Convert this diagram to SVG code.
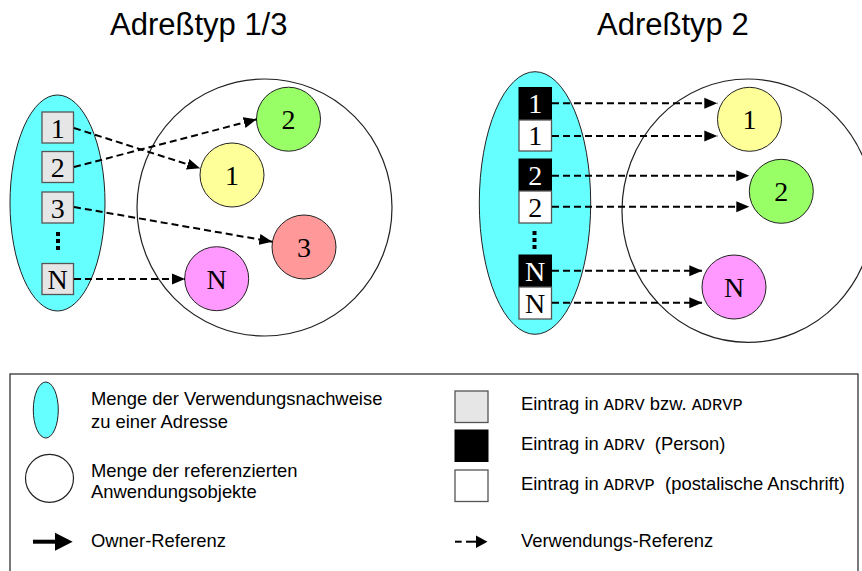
<svg xmlns="http://www.w3.org/2000/svg" width="862" height="571" viewBox="0 0 862 571">
<defs>
<marker id="ah" markerUnits="userSpaceOnUse" markerWidth="14" markerHeight="12" refX="13" refY="6" orient="auto">
<path d="M0,0.5 L13,6 L0,11.5 Z" fill="#000"/>
</marker>
<style>
.title{font-family:"Liberation Sans",Arial,sans-serif;font-size:31px;fill:#000}
.lbl{font-family:"Liberation Serif","Times New Roman",serif;font-size:28px;text-anchor:middle;fill:#000}
.lblw{font-family:"Liberation Serif","Times New Roman",serif;font-size:28px;text-anchor:middle;fill:#fff}
.leg{font-family:"Liberation Sans",Arial,sans-serif;font-size:18.4px;fill:#000}
tspan.mono{font-family:"Liberation Mono","Courier New",monospace;font-size:17px}
.set{fill:#66FFFF;stroke:#222;stroke-width:1}
.big{fill:#fff;stroke:#222;stroke-width:1.2}
.obj{stroke:#222;stroke-width:1}
.gbox{fill:#E6E6E6;stroke:#555;stroke-width:1.3}
.bbox{fill:#000;stroke:#000;stroke-width:1}
.wbox{fill:#fff;stroke:#555;stroke-width:1.3}
.ref{stroke:#000;stroke-width:2;stroke-dasharray:7 4;fill:none;marker-end:url(#ah)}
.dots{stroke:#000;stroke-width:4;stroke-dasharray:4 3}
</style>
</defs>
<rect width="862" height="571" fill="#fff"/>

<text class="title" x="110" y="35">Adreßtyp 1/3</text>
<text class="title" x="597" y="35">Adreßtyp 2</text>

<!-- Left diagram -->
<g id="left-set"><ellipse class="set" cx="57.5" cy="203" rx="47.5" ry="108"/></g>
<g id="left-objects"><ellipse class="big" cx="264.5" cy="207.5" rx="127.5" ry="128.5"/></g>
<g id="l-box1"><rect class="gbox" x="42" y="112" width="31.5" height="31"/><text class="lbl" x="57.7" y="137.5">1</text></g>
<g id="l-box2"><rect class="gbox" x="42" y="151.5" width="31.5" height="31"/><text class="lbl" x="57.7" y="177">2</text></g>
<g id="l-box3"><rect class="gbox" x="42" y="192" width="31.5" height="31"/><text class="lbl" x="57.7" y="217.5">3</text></g>
<g id="l-dots"><line class="dots" x1="58" y1="232" x2="58" y2="251"/></g>
<g id="l-boxN"><rect class="gbox" x="42" y="263.5" width="31.5" height="31"/><text class="lbl" x="57.7" y="289">N</text></g>
<g id="l-obj2"><circle class="obj" cx="288.5" cy="119.2" r="32" fill="#99FF66"/><text class="lbl" x="288.5" y="129">2</text></g>
<g id="l-obj1"><circle class="obj" cx="232" cy="175" r="32" fill="#FFFF99"/><text class="lbl" x="232" y="185">1</text></g>
<g id="l-obj3"><circle class="obj" cx="304" cy="247" r="32" fill="#FF9999"/><text class="lbl" x="304" y="257">3</text></g>
<g id="l-objN"><circle class="obj" cx="216.7" cy="278.7" r="32" fill="#FF99FF"/><text class="lbl" x="216.7" y="288.5">N</text></g>

<!-- Right diagram -->
<g id="right-set"><ellipse class="set" cx="535" cy="203" rx="55.7" ry="131.3"/></g>
<g id="right-objects"><ellipse class="big" cx="748" cy="210.7" rx="126" ry="131.7"/></g>
<g id="r-box1p"><rect class="bbox" x="519" y="87.5" width="32.5" height="32.5"/><text class="lblw" x="535.2" y="113">1</text></g>
<g id="r-box1a"><rect class="wbox" x="519" y="120" width="32.5" height="31"/><text class="lbl" x="535.2" y="145">1</text></g>
<g id="r-box2p"><rect class="bbox" x="519" y="159" width="32.5" height="32"/><text class="lblw" x="535.2" y="184.5">2</text></g>
<g id="r-box2a"><rect class="wbox" x="519" y="191" width="32.5" height="32"/><text class="lbl" x="535.2" y="216.5">2</text></g>
<g id="r-dots"><line class="dots" x1="534.5" y1="231" x2="534.5" y2="251"/></g>
<g id="r-boxNp"><rect class="bbox" x="519" y="255" width="32.5" height="32"/><text class="lblw" x="535.2" y="281">N</text></g>
<g id="r-boxNa"><rect class="wbox" x="519" y="287" width="32.5" height="32"/><text class="lbl" x="535.2" y="313">N</text></g>
<g id="r-obj1"><circle class="obj" cx="749.5" cy="119.3" r="32" fill="#FFFF99"/><text class="lbl" x="749.5" y="129">1</text></g>
<g id="r-obj2"><circle class="obj" cx="781.3" cy="191.3" r="32" fill="#99FF66"/><text class="lbl" x="781.3" y="201">2</text></g>
<g id="r-objN"><circle class="obj" cx="734" cy="287" r="32" fill="#FF99FF"/><text class="lbl" x="734" y="297">N</text></g>

<!-- Connectors -->
<g id="connectors">
<line class="ref" x1="74" y1="128" x2="200" y2="168.3"/>
<line class="ref" x1="74" y1="167" x2="256.7" y2="119.3"/>
<line class="ref" x1="74" y1="207" x2="272.3" y2="241.7"/>
<line class="ref" x1="74" y1="279" x2="185" y2="279"/>
<line class="ref" x1="552" y1="103.3" x2="717.3" y2="103.3"/>
<line class="ref" x1="552" y1="136" x2="717.3" y2="136"/>
<line class="ref" x1="552" y1="175.7" x2="749.3" y2="175.7"/>
<line class="ref" x1="552" y1="206.7" x2="749.3" y2="206.7"/>
<line class="ref" x1="552" y1="270.7" x2="702.3" y2="270.7"/>
<line class="ref" x1="552" y1="302.7" x2="702.3" y2="302.7"/>
</g>

<!-- Legend -->
<g id="legend">
<rect x="10" y="374" width="848" height="210" fill="none" stroke="#222" stroke-width="1.2"/>
<ellipse class="set" cx="45.8" cy="410" rx="12.5" ry="28"/>
<text class="leg" x="91" y="405">Menge der Verwendungsnachweise</text>
<text class="leg" x="91" y="428">zu einer Adresse</text>
<circle class="big" cx="49.5" cy="478.3" r="24"/>
<text class="leg" x="91" y="477">Menge der referenzierten</text>
<text class="leg" x="91" y="498">Anwendungsobjekte</text>
<line x1="33" y1="541.7" x2="57" y2="541.7" stroke="#000" stroke-width="4"/>
<path d="M55,532.7 L72.7,541.7 L55,550.7 Z" fill="#000"/>
<text class="leg" x="91" y="547.3">Owner-Referenz</text>

<rect class="gbox" x="455" y="391" width="33" height="31.5"/>
<rect class="bbox" x="455" y="430" width="33" height="31.5"/>
<rect class="wbox" x="455" y="470" width="33" height="31.5"/>
<text class="leg" x="521" y="410" xml:space="preserve">Eintrag in <tspan class="mono" font-family="Liberation Mono, monospace" style="font-family:'Liberation Mono',monospace">ADRV</tspan> bzw. <tspan class="mono" font-family="Liberation Mono, monospace" style="font-family:'Liberation Mono',monospace">ADRVP</tspan></text>
<text class="leg" x="521" y="450" xml:space="preserve">Eintrag in <tspan class="mono" font-family="Liberation Mono, monospace" style="font-family:'Liberation Mono',monospace">ADRV</tspan>  (Person)</text>
<text class="leg" x="521" y="489.5" xml:space="preserve">Eintrag in <tspan class="mono" font-family="Liberation Mono, monospace" style="font-family:'Liberation Mono',monospace">ADRVP</tspan>  (postalische Anschrift)</text>
<line x1="455" y1="541.7" x2="461.7" y2="541.7" stroke="#000" stroke-width="2"/>
<line x1="466" y1="541.7" x2="478" y2="541.7" stroke="#000" stroke-width="2"/>
<path d="M476,535.5 L487.5,541.7 L476,547.9 Z" fill="#000"/>
<text class="leg" x="521" y="547.3">Verwendungs-Referenz</text>
</g>
</svg>
